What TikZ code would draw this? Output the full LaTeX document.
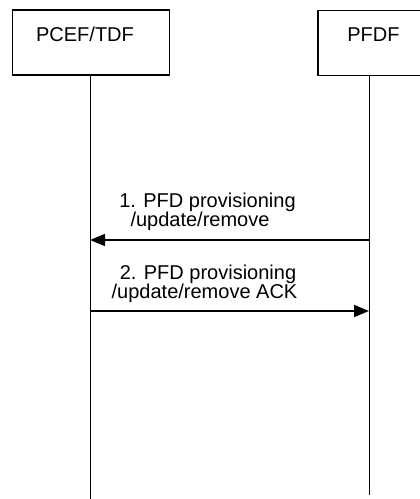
\documentclass[tikz,border=0pt]{standalone}
\usepackage{fontspec}
\setmainfont{Liberation Sans}
\usetikzlibrary{arrows.meta}
\begin{document}
\begin{tikzpicture}[x=1pt,y=-1pt,
  entity/.style={draw,line width=1.2pt,inner sep=0pt,minimum height=65pt},
  ename/.style={font=\fontsize{20}{24}\selectfont,inner sep=0pt,anchor=base},
  lifeline/.style={line width=1pt},
  msg/.style={line width=1.6pt,-{Triangle[length=15pt,width=12pt]}},
  mlabel/.style={font=\fontsize{20}{24}\selectfont,inner sep=0pt,anchor=base}]
\useasboundingbox (0,0) rectangle (420,499);
\node[entity,minimum width=157pt] (a) at (91,42.5) {};
\node[entity,minimum width=103pt] (b) at (369.5,43) {};
\node[ename] (alab) at (85,41.7) {PCEF/TDF};
\node[ename] (blab) at (373.5,41.7) {PFDF};
\coordinate (aend) at (90,499);
\coordinate (bend) at (369,495);
\draw[lifeline] (a.south -| aend) -- (aend);
\draw[lifeline] (b.south -| bend) -- (bend);
\coordinate (m1s) at (369,240);
\coordinate (m1e) at (90,240);
\coordinate (m2s) at (90,311);
\coordinate (m2e) at (369,311);
\draw[msg] (m1s) -- (m1e);
\draw[msg] (m2s) -- (m2e);
\node[mlabel] (l1a) at (207.5,207.3) {1. PFD provisioning};
\node[mlabel] (l1b) at (200,226.5) {/update/remove};
\node[mlabel] (l2a) at (208,279.3) {2. PFD provisioning};
\node[mlabel] (l2b) at (204.5,298) {/update/remove ACK};
\end{tikzpicture}
\end{document}
